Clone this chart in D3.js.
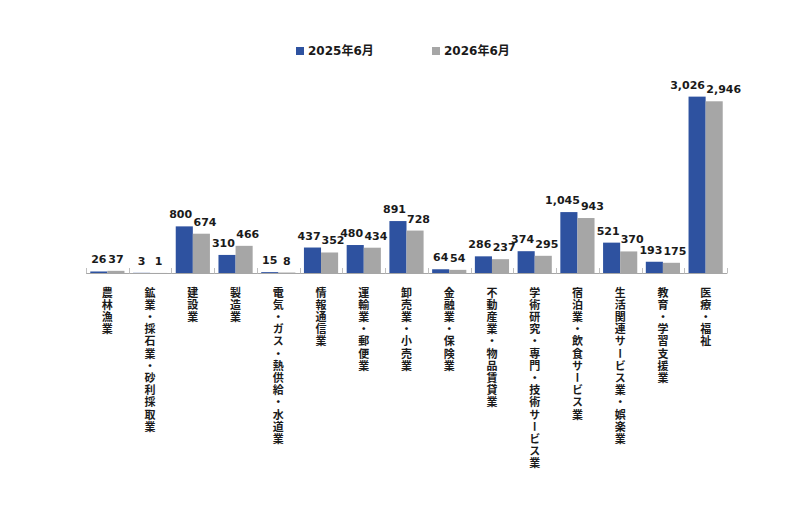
<!DOCTYPE html>
<html>
<head>
<meta charset="utf-8">
<script src="https://cdn.jsdelivr.net/npm/d3@7"></script>
<style>
  body { margin: 0; background: #ffffff; }
</style>
</head>
<body>
<div id="chart"></div>
<script>
// data
var categories = [
  "農林漁業",
  "鉱業・採石業・砂利採取業",
  "建設業",
  "製造業",
  "電気・ガス・熱供給・水道業",
  "情報通信業",
  "運輸業・郵便業",
  "卸売業・小売業",
  "金融業・保険業",
  "不動産業・物品賃貸業",
  "学術研究・専門・技術サービス業",
  "宿泊業・飲食サービス業",
  "生活関連サービス業・娯楽業",
  "教育・学習支援業",
  "医療・福祉"
];
var seriesNames = ["2025年6月", "2026年6月"];
var values2025 = [26, 3, 800, 310, 15, 437, 480, 891, 64, 286, 374, 1045, 521, 193, 3026];
var values2026 = [37, 1, 674, 466, 8, 352, 434, 728, 54, 237, 295, 943, 370, 175, 2946];
var colors = ["#2e52a0", "#a6a6a6"];

var W = 800, H = 510;
var left = 86, right = 727, baseY = 273, topY = 69;
var labelFont = "'DejaVu Sans', Verdana, sans-serif";

var svg = d3.select("#chart")
  .append("svg")
  .attr("width", W)
  .attr("height", H);

svg.append("rect").attr("width", W).attr("height", H).attr("fill", "#ffffff");

// *****************************************************************************
// scales
// *****************************************************************************
var x0 = d3.scaleBand().domain(categories).range([left, right]).paddingInner(0).paddingOuter(0);
var x1 = d3.scaleBand().domain(seriesNames).range([0, x0.bandwidth()]).paddingInner(0).paddingOuter(0.25);
var y = d3.scaleLinear().domain([0, 3500]).range([baseY, topY]);

var rows = categories.map(function (c, i) {
  return { cat: c, vals: [
    { key: seriesNames[0], value: values2025[i], color: colors[0] },
    { key: seriesNames[1], value: values2026[i], color: colors[1] }
  ] };
});

// *****************************************************************************
// bars + labels
// *****************************************************************************
var groups = svg.selectAll("g.cat")
  .data(rows)
  .enter()
  .append("g")
  .attr("class", "cat")
  .attr("transform", function (d) { return "translate(" + x0(d.cat) + ",0)"; });

groups.selectAll("rect")
  .data(function (d) { return d.vals; })
  .enter()
  .append("rect")
  .attr("x", function (d) { return x1(d.key); })
  .attr("y", function (d) { return y(d.value); })
  .attr("width", x1.bandwidth())
  .attr("height", function (d) { return baseY - y(d.value); })
  .attr("fill", function (d) { return d.color; });

groups.each(function (d) {
  var g = d3.select(this);
  var labels = d.vals.map(function (v) {
    return g.append("text")
      .attr("x", x1(v.key) + x1.bandwidth() / 2)
      .attr("y", y(v.value) - 8)
      .attr("text-anchor", "middle")
      .style("font-family", labelFont)
      .style("font-weight", "bold")
      .style("font-size", "11px")
      .style("fill", "#1a1a1a")
      .text(d3.format(",")(v.value));
  });
  // push the two labels apart when they collide
  var a = labels[0].node().getBBox(), b = labels[1].node().getBBox();
  var overlap = a.x + a.width + 1 - b.x;
  var vOverlap = Math.min(a.y + a.height, b.y + b.height) - Math.max(a.y, b.y);
  if (overlap > 0 && vOverlap > 0) {
    labels[0].attr("x", +labels[0].attr("x") - overlap / 2);
    labels[1].attr("x", +labels[1].attr("x") + overlap / 2);
  }
});

// *****************************************************************************
// x axis (ticks between categories pointing up)
// *****************************************************************************
var axis = svg.append("g");
axis.append("line")
  .attr("x1", left).attr("x2", right)
  .attr("y1", baseY + 0.5).attr("y2", baseY + 0.5)
  .attr("stroke", "#a6a6a6").attr("stroke-width", 1);

var tickPos = categories.map(function (c) { return x0(c); }).concat([right]);
axis.selectAll("line.tick")
  .data(tickPos)
  .enter()
  .append("line")
  .attr("class", "tick")
  .attr("x1", function (d) { return Math.round(d) + 0.5; })
  .attr("x2", function (d) { return Math.round(d) + 0.5; })
  .attr("y1", baseY - 5).attr("y2", baseY + 0.5)
  .attr("stroke", "#bfbfbf").attr("stroke-width", 1);

// vertical category labels
svg.selectAll("text.catlabel")
  .data(categories)
  .enter()
  .append("text")
  .attr("class", "catlabel")
  .attr("x", function (d) { return x0(d) + x0.bandwidth() / 2; })
  .attr("y", 287)
  .style("writing-mode", "vertical-rl")
  .style("font-family", "'Noto Sans CJK JP', sans-serif")
  .style("font-weight", "bold")
  .style("font-size", "11px")
  .style("letter-spacing", "1.2px")
  .style("fill", "#1a1a1a")
  .text(function (d) { return d; });

// *****************************************************************************
// legend
// *****************************************************************************
var legendX = [296, 432];
var legend = svg.selectAll("g.legend")
  .data(seriesNames)
  .enter()
  .append("g")
  .attr("class", "legend")
  .attr("transform", function (d, i) { return "translate(" + legendX[i] + ",47)"; });

legend.append("rect")
  .attr("width", 8).attr("height", 8)
  .attr("fill", function (d, i) { return colors[i]; });

legend.append("text")
  .attr("x", 12).attr("y", 8)
  .style("font-family", "'DejaVu Sans', 'Noto Sans CJK JP', sans-serif")
  .style("font-weight", "bold")
  .style("font-size", "12px")
  .style("fill", "#1a1a1a")
  .text(function (d) { return d; });
</script>
</body>
</html>
